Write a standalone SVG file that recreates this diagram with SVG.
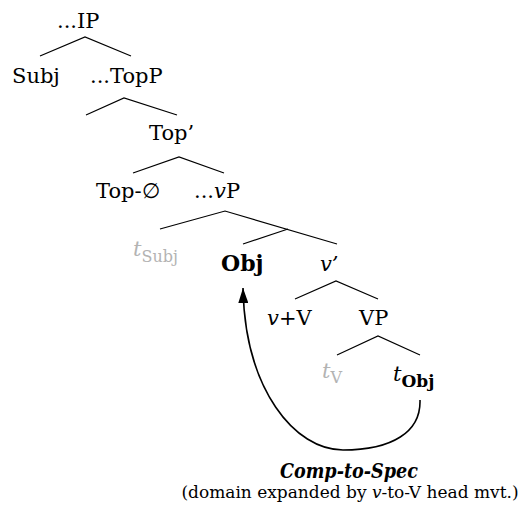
<svg xmlns="http://www.w3.org/2000/svg" width="520" height="506" viewBox="0 0 520 506">
<style>
text{font-family:'DejaVu Serif',serif;font-size:21px;fill:#000}
.i{font-style:italic}
.b{font-weight:bold}
.g{fill:#b3b3b3}
.sub{font-size:16px}
.br{stroke:#000;stroke-width:1.2;fill:none}
.mv{stroke:#000;stroke-width:1.6;fill:none}
</style>
<defs>
<marker id="ah" viewBox="0 0 15 10" refX="15" refY="5" markerWidth="15" markerHeight="10" markerUnits="userSpaceOnUse" orient="auto">
<path d="M0,0 L15,5 L0,10 z" fill="#000"/>
</marker>
</defs>
<g id="connectors">
<path class="br" d="M40,56 L85,37 L131,56"/>
<path class="br" d="M86,115 L124,98 L177,115"/>
<path class="br" d="M133,173 L179,157 L224,173"/>
<path class="br" d="M160,229 L225,211 L337,244"/>
<path class="br" d="M243,244 L288,229"/>
<path class="br" d="M295,299 L336,281 L378,299"/>
<path class="br" d="M337,355 L378,336 L420,355"/>
<path class="mv" marker-end="url(#ah)" d="M420,400 C421,432 392,450 343,450 C295,450 245,390 243,288"/>
</g>
<g id="IP"><text x="57" y="28">...IP</text></g>
<g id="Subj"><text x="12" y="83">Subj</text></g>
<g id="TopP"><text x="90" y="83">...TopP</text></g>
<g id="TopBar"><text x="149" y="140">Top’</text></g>
<g id="TopNull"><text x="96" y="198">Top-∅</text></g>
<g id="vP"><text x="194" y="198">...<tspan class="i">v</tspan>P</text></g>
<g id="tSubj"><text class="g" x="133" y="256"><tspan class="i">t</tspan><tspan class="sub" dy="6">Subj</tspan></text></g>
<g id="Obj"><text class="b" x="221" y="271" style="font-size:22px">Obj</text></g>
<g id="vBar"><text class="i" x="320" y="271">v’</text></g>
<g id="vV"><text x="267" y="325"><tspan class="i">v</tspan>+V</text></g>
<g id="VP"><text x="359" y="325">VP</text></g>
<g id="tV"><text class="g" x="322" y="378"><tspan class="i">t</tspan><tspan class="sub" dy="5">V</tspan></text></g>
<g id="tObj"><text x="393" y="381"><tspan class="i">t</tspan><tspan class="b" style="font-size:17px" dy="6">Obj</tspan></text></g>
<g id="label">
<text class="b i" x="280" y="478" style="font-size:20px" textLength="138" lengthAdjust="spacingAndGlyphs">Comp-to-Spec</text>
<text x="350" y="498" text-anchor="middle" style="font-size:17px">(domain expanded by <tspan class="i">v</tspan>-to-V head mvt.)</text>
</g>
</svg>
